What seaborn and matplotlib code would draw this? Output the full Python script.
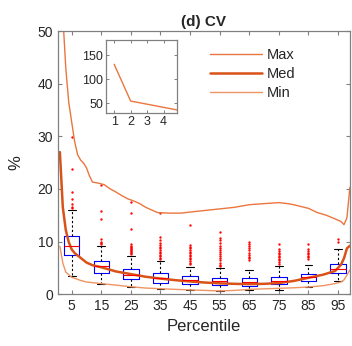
import numpy as np
import pandas as pd
import seaborn as sns
import matplotlib
matplotlib.use('Agg')
import matplotlib.pyplot as plt

# valores (d) CV
pct = [5, 15, 25, 35, 45, 55, 65, 75, 85, 95]
q1 = [7.4, 4.1, 2.9, 2.2, 1.85, 1.65, 1.6, 1.85, 2.55, 4.0]
med = [9.1, 5.25, 3.65, 3.1, 2.6, 2.4, 2.3, 2.5, 3.2, 4.8]
q3 = [11.0, 6.2, 4.8, 4.0, 3.4, 3.15, 3.0, 3.2, 3.9, 5.7]
w_lo = [3.5, 2.0, 1.35, 0.9, 0.8, 0.65, 0.7, 0.8, 1.4, 2.5]
w_hi = [15.9, 9.2, 7.2, 6.2, 5.2, 5.0, 4.6, 5.25, 5.45, 8.5]
outl = [
    [29.9, 23.8, 19.5, 18.1, 17.1, 16.6, 16.3],
    [20.7, 15.8, 14.2, 10.5, 10.0, 9.8, 9.6],
    [17.6, 15.5, 12.3, 9.5, 9.2, 9.0, 8.8, 8.6, 8.4, 8.2, 8.0, 7.8, 7.6],
    [15.4, 10.8, 10.2, 9.8, 9.4, 9.0, 8.7, 8.4, 8.1, 7.8, 7.5, 7.2, 6.9, 6.6],
    [13.1, 9.4, 9.0, 8.7, 8.4, 8.1, 7.8, 7.5, 7.2, 6.9, 6.6, 6.3, 6.0, 5.7],
    [11.9, 10.7, 10.2, 9.7, 9.2, 8.8, 8.4, 8.0, 7.6, 7.2, 6.8, 6.4, 6.0, 5.6, 5.3],
    [9.9, 9.5, 9.1, 8.7, 8.3, 7.9, 7.5, 7.1, 6.8, 6.5],
    [9.6, 8.5, 8.2, 7.9, 7.6, 7.3, 7.0, 6.7, 6.4, 6.1, 5.8],
    [9.6, 8.5, 8.2, 7.9, 7.6, 7.3, 7.0, 6.7],
    [10.4, 9.9],
]

x_max = [1, 2, 3, 4, 5, 6, 7, 8, 9, 10, 11, 12, 14, 16, 18, 20, 22, 24, 26, 28, 30, 32, 34,
         38, 42, 45, 50, 55, 60, 65, 70, 75, 78, 80, 85, 88, 91, 94, 96, 97, 98, 99]
y_max = [80, 53, 43, 36.5, 32.7, 29, 26.5, 25.5, 24.9, 24, 22.5, 21.3, 21.1, 20.8, 20, 19.4,
         18.7, 18.1, 17.7, 17.2, 16.5, 16, 15.5, 15.4, 15.4, 15.6, 15.9, 16.2, 16.5, 17.0,
         17.2, 17.4, 17.2, 17.0, 16.3, 15.5, 15.0, 14.3, 13.8, 13.2, 14.5, 20.3]
x_med = [1, 2, 3, 4, 5, 6, 8, 10, 12, 15, 20, 25, 30, 35, 40, 45, 50, 55, 60, 65, 70, 75,
         80, 85, 90, 94, 96, 97, 98, 99]
y_med = [27, 16.5, 12.2, 9.9, 8.5, 7.8, 6.9, 6.0, 5.5, 5.1, 4.3, 3.8, 3.3, 2.95, 2.65, 2.4,
         2.2, 2.05, 1.95, 1.9, 1.95, 2.1, 2.5, 3.1, 3.7, 4.4, 5.6, 6.8, 8.7, 9.2]
x_min = [1, 2, 3, 5, 8, 10, 15, 20, 25, 30, 40, 50, 55, 60, 65, 70, 75, 80, 85, 90, 94, 96,
         97, 98, 99]
y_min = [9.1, 5.9, 4.2, 3.2, 2.6, 2.3, 2.0, 1.7, 1.4, 1.15, 0.9, 0.7, 0.6, 0.7, 0.9, 1.0,
         1.1, 1.2, 1.35, 1.6, 2.0, 2.3, 2.7, 3.6, 4.6]

# inset
x_ins = [1, 2, 3, 4, 5]
y_ins = [131, 55, 48.5, 42, 35.5]

sns.set_style('ticks')
plt.rcParams['font.family'] = ['Liberation Sans', 'DejaVu Sans']
plt.rcParams['axes.grid'] = False

cor_max = '#EA763F'
cor_med = '#D95319'
cor_min = '#EF9463'
cinza = '#808080'

fig = plt.figure(figsize=(3.52, 3.46), dpi=100)
ax = fig.add_axes([0.165, 0.150, 0.829, 0.760])

stats = []
for i in range(len(pct)):
    stats.append(dict(q1=q1[i], med=med[i], q3=q3[i], whislo=w_lo[i],
                      whishi=w_hi[i], fliers=outl[i]))
ax.bxp(stats, positions=pct, widths=5.2, capwidths=2.6, manage_ticks=False,
       boxprops=dict(color='#0000FF', lw=0.8),
       medianprops=dict(color='#FF0000', lw=0.8),
       whiskerprops=dict(color='black', lw=0.8, ls=(0, (2, 2))),
       capprops=dict(color='black', lw=0.8),
       flierprops=dict(marker='.', markersize=1.4, markerfacecolor='#FF0000',
                       markeredgecolor='#FF0000', ls='none'))

df_max = pd.DataFrame({'x': x_max, 'y': y_max})
df_med = pd.DataFrame({'x': x_med, 'y': y_med})
df_min = pd.DataFrame({'x': x_min, 'y': y_min})
sns.lineplot(data=df_max, x='x', y='y', ax=ax, color=cor_max, lw=1.0, label='Max')
sns.lineplot(data=df_med, x='x', y='y', ax=ax, color=cor_med, lw=1.8, label='Med')
sns.lineplot(data=df_min, x='x', y='y', ax=ax, color=cor_min, lw=1.0, label='Min')

ax.set_xlim(0.4, 99.0)
ax.set_ylim(0, 50)
ax.set_xticks(pct)
ax.set_yticks([0, 10, 20, 30, 40, 50])
ax.grid(False)
ax.tick_params(direction='in', length=3, width=0.8, color=cinza, labelsize=10,
               labelcolor='#262626', top=True, right=True, labeltop=False, labelright=False)
for s in ax.spines.values():
    s.set_color(cinza)
    s.set_linewidth(0.9)
ax.set_xlabel('Percentile', fontsize=12, color='#262626', labelpad=4)
ax.set_ylabel('%', fontsize=12, color='#262626', labelpad=10)
ax.set_title('(d) CV', fontsize=11, fontweight='bold', pad=4)
ax.legend(loc='upper left', bbox_to_anchor=(0.475, 0.985), frameon=False,
          handlelength=3.6, fontsize=10.5, labelspacing=0.35, handletextpad=0.3)

ins = fig.add_axes([0.301, 0.673, 0.202, 0.211])
sns.lineplot(x=x_ins, y=y_ins, ax=ins, color=cor_max, lw=1.0)
ins.set_xlim(0.5, 4.82)
ins.set_ylim(30, 181)
ins.set_xticks([1, 2, 3, 4])
ins.set_yticks([50, 100, 150])
ins.grid(False)
ins.tick_params(direction='in', length=2.5, width=0.7, color=cinza, labelsize=9,
                labelcolor='#262626', top=True, right=True, pad=2)
for s in ins.spines.values():
    s.set_color(cinza)
    s.set_linewidth(0.9)

fig.savefig('out.png', dpi=100)
